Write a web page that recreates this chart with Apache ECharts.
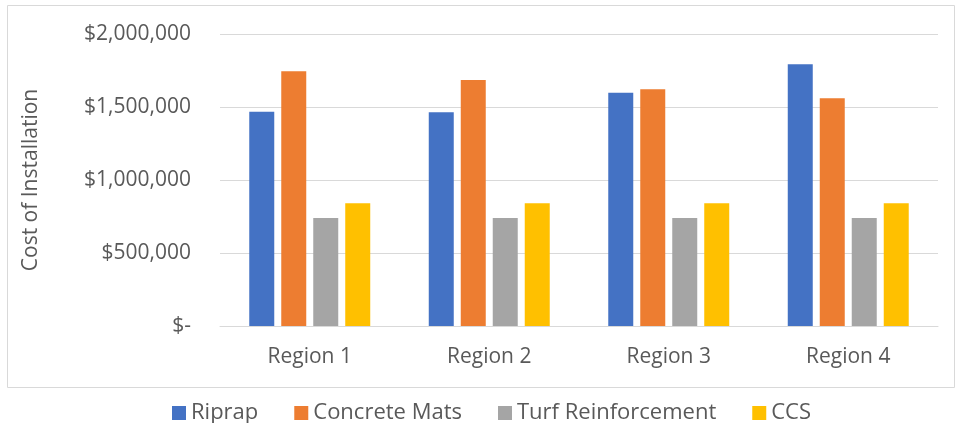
<!DOCTYPE html>
<html>
<head>
<meta charset="utf-8">
<script src="https://cdn.jsdelivr.net/npm/echarts@6/dist/echarts.min.js"></script>
<style>
  html, body { margin: 0; padding: 0; background: #fff; }
  #chart { width: 957px; height: 423px; }
</style>
</head>
<body>
<div id="chart"></div>
<script>
// Installation cost per region for each erosion-control option
const categories = ['Region 1', 'Region 2', 'Region 3', 'Region 4'];
const riprap = [1468000, 1464000, 1598000, 1792000];
const concreteMats = [1745000, 1685000, 1621000, 1560000];
const turfReinforcement = [740000, 740000, 740000, 740000];
const ccs = [840000, 840000, 840000, 840000];
const seriesNames = ['Riprap', 'Concrete Mats', 'Turf Reinforcement', 'CCS'];
const colors = ['#4472C4', '#ED7D31', '#A5A5A5', '#FFC000'];

const FONT = 'Open Sans';
const TEXT = '#595959';

// Accounting-style dollar labels: zero shows as a dash
function money(v) {
  if (v === 0) return '$-';
  return '$' + v.toLocaleString('en-US');
}

const chart = echarts.init(document.getElementById('chart'), null, { renderer: 'canvas' });

const dataSets = [riprap, concreteMats, turfReinforcement, ccs];

chart.setOption({
  animation: false,
  color: colors,
  textStyle: { fontFamily: FONT },
  graphic: [{
    type: 'rect',
    shape: { x: 7.5, y: 5.5, width: 947, height: 382 },
    style: { fill: 'none', stroke: '#d9d9d9', lineWidth: 1 },
    silent: true
  }],
  grid: { left: 220, right: 19, top: 34, bottom: 97, containLabel: false },
  legend: {
    top: 397,
    left: 167,
    itemWidth: 14,
    itemHeight: 14,
    itemGap: 36,
    icon: 'rect',
    textStyle: { color: TEXT, fontSize: 22, fontFamily: FONT },
    data: seriesNames
  },
  xAxis: {
    type: 'category',
    data: categories,
    axisLine: { lineStyle: { color: '#d9d9d9', width: 1 } },
    axisTick: { show: false },
    axisLabel: { color: TEXT, fontSize: 21, margin: 21, fontFamily: FONT }
  },
  yAxis: {
    type: 'value',
    min: 0,
    max: 2000000,
    interval: 500000,
    name: 'Cost of Installation',
    nameLocation: 'middle',
    nameGap: 178,
    nameTextStyle: { color: TEXT, fontSize: 21, fontFamily: FONT },
    axisLine: { show: false },
    axisTick: { show: false },
    splitLine: { lineStyle: { color: '#d9d9d9', width: 1 } },
    axisLabel: { color: TEXT, fontSize: 21, margin: 29, fontFamily: FONT, formatter: money }
  },
  series: seriesNames.map((name, i) => ({
    name,
    type: 'bar',
    data: dataSets[i],
    barGap: '28%',
    barCategoryGap: '32.6%',
    itemStyle: { color: colors[i] }
  }))
});
</script>
</body>
</html>
